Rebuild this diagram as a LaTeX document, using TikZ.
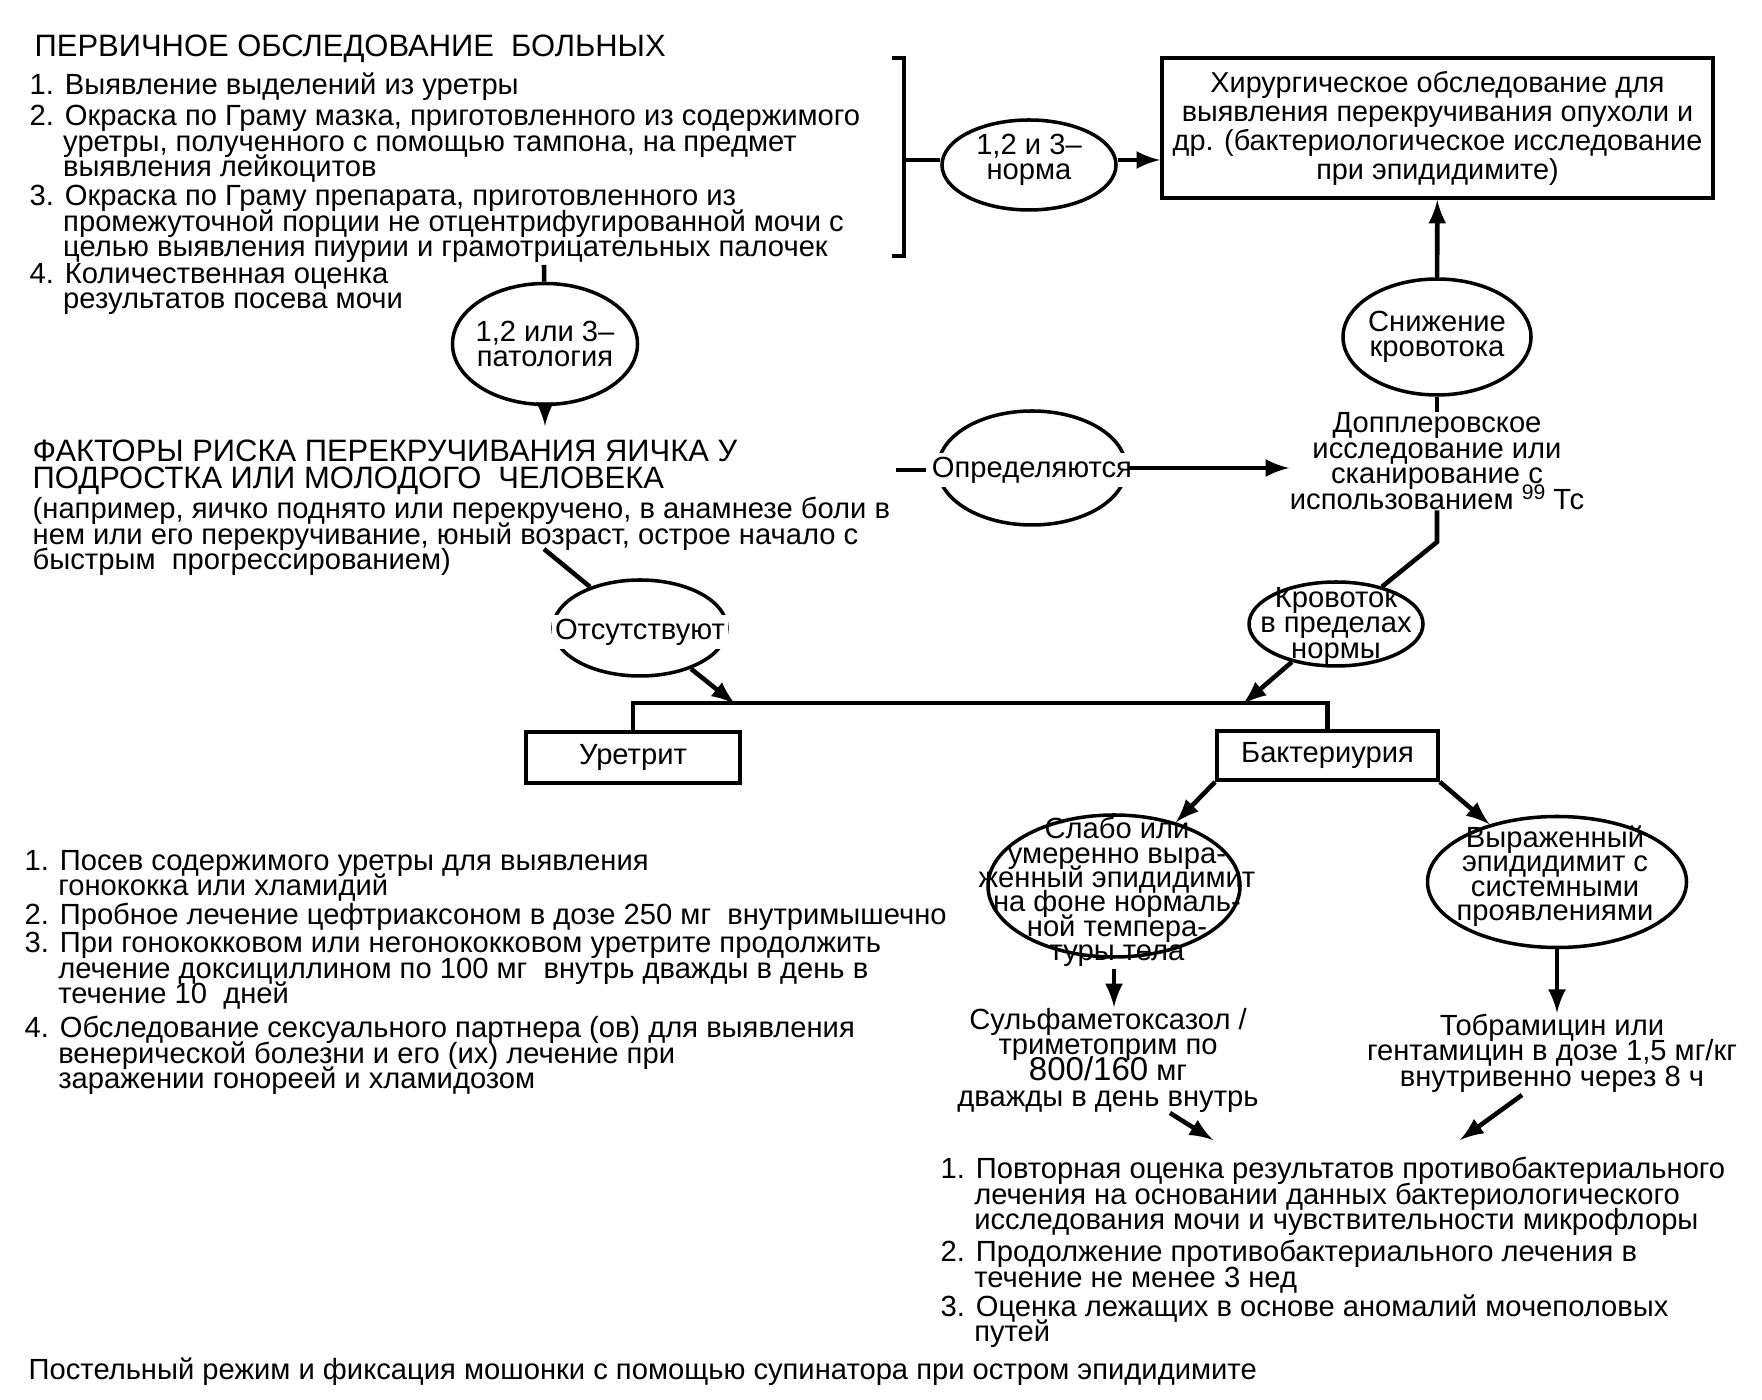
\documentclass[tikz,border=0pt]{standalone}
\usepackage{fontspec}
\setmainfont{Liberation Sans}
\usetikzlibrary{shapes,arrows}
\tikzset{%
  block/.style = {draw, line width=1.1pt, rectangle, inner sep=0pt, align=center},
  oval/.style  = {draw, line width=1pt, ellipse, inner sep=0pt}, % Ellipse
  txt/.style   = {align=center, inner sep=0pt},
  gap/.style   = {fill=white, inner sep=1pt}, % text that cuts the ellipse
  lst/.style   = {align=left, anchor=base west, inner sep=0pt}, % list items, placed by last line
  head/.style  = {lst, font=\headfont},
  link/.style  = {line width=1.3pt}
}
\newcommand{\hng}{\hspace*{1.15em}}
\newcommand{\basefont}{\fontsize{8.3}{7.3}\selectfont\lineskiplimit=-20pt}
\newcommand{\headfont}{\fontsize{8.8}{7.7}\selectfont\lineskiplimit=-20pt}
\newcommand{\wide}{\fontsize{8.2}{8.25}\selectfont\lineskiplimit=-20pt}
\newcommand{\tight}{\fontsize{8.3}{6.95}\selectfont\lineskiplimit=-20pt}

\begin{document}
\begin{tikzpicture}[x=0.1mm, y=-0.1mm, >=latex, font=\basefont]
\useasboundingbox (0,0) rectangle (1762,1400);
	% First examination and its list
\draw
	node at (34,57) [head] (title1) {ПЕРВИЧНОЕ ОБСЛЕДОВАНИЕ\ \ БОЛЬНЫХ}
	node at (29,95) [lst] (obsl1) {1. Выявление выделений из уретры}
	node at (29,177) [lst] (obsl2) {2. Окраска по Граму мазка, приготовленного из содержимого\\
	  \hng уретры, полученного с помощью тампона, на предмет\\ \hng выявления лейкоцитов}
	node at (29,257) [lst] (obsl3) {3. Окраска по Граму препарата, приготовленного из\\
	  \hng промежуточной порции не отцентрифугированной мочи с\\
	  \hng целью выявления пиурии и грамотрицательных палочек}
	node at (29,309) [lst] (obsl4) {4. Количественная оценка\\ \hng результатов посева мочи};
	% Right branch: normal results
\draw
	node at (1029,165) [oval, minimum width=17.4mm, minimum height=9mm] (norma1) {}
	node at (1029,160) [txt] (norma1t) {1,2 и 3--\\норма}
	node at (1437.5,128) [block, minimum width=55.1mm, minimum height=14mm, font=\wide] (hirurg)
	  {Хирургическое обследование для\\выявления перекручивания опухоли и\\
	   др. (бактериологическое исследование\\при эпидидимите)}
	node at (1437,337) [oval, minimum width=18.8mm, minimum height=11.6mm] (snizh) {}
	node at (1437,337) [txt] (snizht) {Снижение\\кровотока}
	node at (1437,461) [txt] (doppl) {Допплеровское\\исследование или\\сканирование с\\
	  использованием \raisebox{0.35em}{\fontsize{6}{6}\selectfont 99} Тс};
	% Bracket and joining
	\coordinate (brk) at (904,160);
	\draw[link] (892,58) -- (904,58) -- (904,256) -- (892,256);
	\draw[link] (brk) -- (brk -| norma1.west);
	\draw[link,->] (norma1.east |- brk) -- (hirurg.west |- brk);
	\draw[link,->] (snizh) -- (hirurg);
	\draw[link] (snizh) -- (doppl);
	% Pathology and risk factors
\draw
	node at (545,344) [oval, minimum width=18.5mm, minimum height=12.1mm] (patol) {}
	node at (545,344) [txt] (patolt) {1,2 или 3--\\патология}
	node at (32,489) [head] (risk) {ФАКТОРЫ РИСКА ПЕРЕКРУЧИВАНИЯ ЯИЧКА У\\ПОДРОСТКА ИЛИ МОЛОДОГО\ \ ЧЕЛОВЕКА}
	node at (32,570) [lst] (riskp) {(например, яичко поднято или перекручено, в анамнезе боли в\\
	  нем или его перекручивание, юный возраст, острое начало с\\быстрым\ \ прогрессированием)}
	node at (1032,468) [oval, minimum width=18.8mm, minimum height=11.4mm] (opred) {}
	node at (1032,470) [txt, gap] (opredt) {Определяются}
	node at (640,628) [oval, minimum width=17.4mm, minimum height=9.6mm] (otsut) {}
	node at (640,632) [txt, gap] (otsutt) {Отсутствуют}
	node at (1336,624) [oval, minimum width=17.4mm, minimum height=8.4mm] (krov) {}
	node at (1336,626) [txt] (krovt) {Кровоток\\в пределах\\нормы};
	\coordinate (l1end) at (544,265);
	\coordinate (risktop) at (545,426);
	\coordinate (stub) at (896,470);
	\coordinate (rline) at (544,549);
	\coordinate (dbend) at (1437,542);
	\draw[link] (l1end) -- (patol);
	\draw[link,->] (patol) -- (risktop);
	\draw[link] (stub) -- ++(30,0);
	\draw[link,->] (opred) -- (doppl.west |- opred);
	\draw[link] (rline) -- (otsut);
	\draw[link] (doppl) -- (dbend) -- (krov);
	% Urethritis and bacteriuria
\draw
	node at (633,757.5) [block, minimum width=21.4mm, minimum height=5.1mm] (uretr) {Уретрит}
	node at (1327.5,755.5) [block, minimum width=22.1mm, minimum height=4.9mm] (bakt) {Бактериурия};
	\coordinate (barl) at (735,704);
	\coordinate (barr) at (1243,704);
	\draw[link] (uretr.north) -- ++(0,-27) -| (bakt.north);
	\draw[link,->] (otsut) -- (barl);
	\draw[link,->] (krov) -- (barr);
	% Epididymitis branches
\draw
	node at (1114,886) [oval, minimum width=25.2mm, minimum height=14.2mm] (slabo) {}
	node at (1117,892) [txt, font=\tight] (slabot) {Слабо или\\умеренно выра-\\женный эпидидимит\\на фоне нормаль-\\ной темпера-\\туры тела}
	node at (1557,882) [oval, minimum width=25.9mm, minimum height=13.1mm] (vyraz) {}
	node at (1555,876) [txt, font=\tight] (vyrazt) {Выраженный\\эпидидимит с\\системными\\проявлениями}
	node at (1108,1060) [txt] (sulf) {Сульфаметоксазол /\\триметоприм по\\
	  {\fontsize{9.4}{7.3}\selectfont 800/160} мг\\дважды в день внутрь}
	node at (1552,1053) [txt] (tobr) {Тобрамицин или\\гентамицин в дозе 1,5 мг/кг\\внутривенно через 8 ч};
	\draw[link,->] (bakt.south west) -- (slabo);
	\draw[link,->] (bakt.south east) -- (vyraz);
	\draw[link,->] ([yshift=-1mm]slabo.south) -- (slabo.south |- sulf.north);
	\draw[link,->] (vyraz.south) -- (vyraz.south |- tobr.north);
	% Urethritis treatment list
\draw
	node at (24,896) [lst] (ur1) {1. Посев содержимого уретры для выявления\\ \hng гонококка или хламидий}
	node at (24,925) [lst] (ur2) {2. Пробное лечение цефтриаксоном в дозе 250 мг\ \ внутримышечно}
	node at (24,1004) [lst] (ur3) {3. При гонококковом или негонококковом уретрите продолжить\\
	  \hng лечение доксициллином по 100 мг\ \ внутрь дважды в день в\\ \hng течение 10\ \ дней}
	node at (24,1089) [lst] (ur4) {4. Обследование сексуального партнера (ов) для выявления\\
	  \hng венерической болезни и его (их) лечение при\\ \hng заражении гонореей и хламидозом};
	% Final list
\draw
	node at (940,1230) [lst] (itog1) {1. Повторная оценка результатов противобактериального\\
	  \hng лечения на основании данных бактериологического\\
	  \hng исследования мочи и чувствительности микрофлоры}
	node at (940,1287) [lst] (itog2) {2. Продолжение противобактериального лечения в\\ \hng течение не менее 3 нед}
	node at (940,1342) [lst] (itog3) {3. Оценка лежащих в основе аномалий мочеполовых\\ \hng путей}
	node at (28,1380) [lst] (rezhim) {Постельный режим и фиксация мошонки с помощью супинатора при остром эпидидимите};
	\coordinate (s1) at (1170,1113);
	\coordinate (t1) at (1522,1095);
	\draw[link,->] (s1) -- (1213,1140);
	\draw[link,->] (t1) -- (1460,1140);
\end{tikzpicture}
\end{document}
